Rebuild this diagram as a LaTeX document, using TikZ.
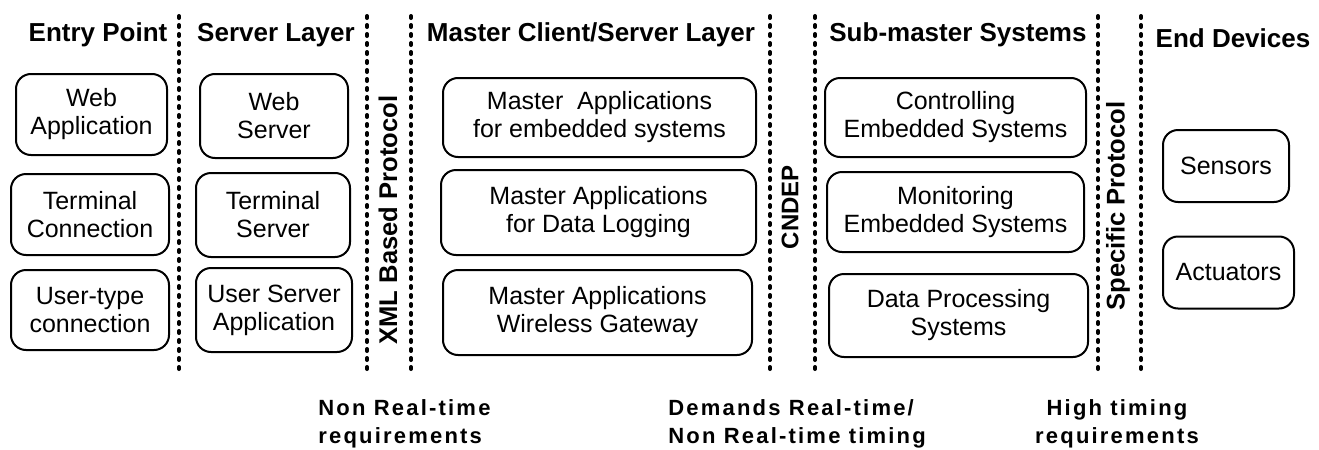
\documentclass[tikz,border=0pt]{standalone}
\usepackage{fontspec}
\setmainfont{Liberation Sans}
\newfontfamily\spacedfont[LetterSpace=10]{Liberation Sans}
\begin{document}
\begin{tikzpicture}[x=0.5pt,y=-0.5pt,
  box/.style={draw, line width=1pt, rounded corners=7.5pt, align=center,
    font=\fontsize{12.5}{14}\selectfont, inner sep=0pt},
  title/.style={font=\fontsize{13}{15}\selectfont\bfseries, inner sep=0pt},
  proto/.style={font=\fontsize{12.8}{14}\selectfont\bfseries, rotate=90, inner sep=0pt},
  note/.style={font=\spacedfont\bfseries\fontsize{11}{14}\selectfont, inner sep=0pt},
  sep/.style={line width=2pt, line cap=round, dash pattern=on 1pt off 3.5pt}]
\useasboundingbox (0,0) rectangle (1319,450);
% separators
\foreach \n/\x in {a/179,b/367,c/411,d/770,e/815,f/1098,g/1141}{
  \coordinate (\n t) at (\x,16);
  \coordinate (\n b) at (\x,369);
  \draw[sep] (\n t) -- (\n b);
}
% titles
\node[title] (tEntry) at (98,35) {Entry Point};
\node[title] (tServer) at (276,35) {Server Layer};
\node[title] (tMaster) at (591,35) {Master Client/Server Layer};
\node[title] (tSub) at (958,35) {Sub-master Systems};
\node[title] (tEnd) at (1233,38) {End Devices};
% entry
\node[box, minimum width=75.5pt, minimum height=40.5pt] (webapp) at (91.5,114.5) {Web\\Application};
\node[box, minimum width=79pt, minimum height=40.5pt] (termconn) at (90,214.5) {Terminal\\Connection};
\node[box, minimum width=79pt, minimum height=40pt] (usertype) at (90,310) {User-type\\connection};
% server
\node[box, minimum width=74pt, minimum height=42pt] (websrv) at (274,116) {Web\\Server};
\node[box, minimum width=77pt, minimum height=42pt] (termsrv) at (273,215) {Terminal\\Server};
\node[box, minimum width=78pt, minimum height=42pt] (usersrv) at (274,310) {User Server\\Application};
% master
\node[box, minimum width=156.5pt, minimum height=39.5pt] (m1) at (599.5,117.5) {Master\ \ Applications\\for embedded systems};
\node[box, minimum width=157.5pt, minimum height=42.5pt] (m2) at (598.5,212.5) {Master Applications\\for Data Logging};
\node[box, minimum width=154.5pt, minimum height=42.5pt] (m3) at (597.5,312.5) {Master Applications\\Wireless Gateway};
% sub-master
\node[box, minimum width=130.5pt, minimum height=39.5pt] (s1) at (955.5,117.5) {Controlling\\Embedded Systems};
\node[box, minimum width=128.5pt, minimum height=40pt] (s2) at (955.5,212) {Monitoring\\Embedded Systems};
\node[box, minimum width=129.5pt, minimum height=41.5pt] (s3) at (958.5,315.5) {Data Processing\\Systems};
% end devices
\node[box, minimum width=63pt, minimum height=36pt] (sensors) at (1226,166) {Sensors};
\node[box, minimum width=65.5pt, minimum height=36pt] (actuators) at (1228.5,272.5) {Actuators};
% protocols
\node[proto] (xml) at (388,220) {XML Based Protocol};
\node[proto, font=\fontsize{12}{14}\selectfont\bfseries] (cndep) at (790,207) {CNDEP};
\node[proto] (spec) at (1118,206) {Specific Protocol};
% notes
\node[note, align=left, anchor=west] (n1) at (318,424) {Non Real-time\\requirements};
\node[note, align=left, anchor=west] (n2) at (668,424) {Demands Real-time/\\Non Real-time timing};
\node[note, align=center] (n3) at (1117,424) {High timing\\requirements};
\end{tikzpicture}
\end{document}
